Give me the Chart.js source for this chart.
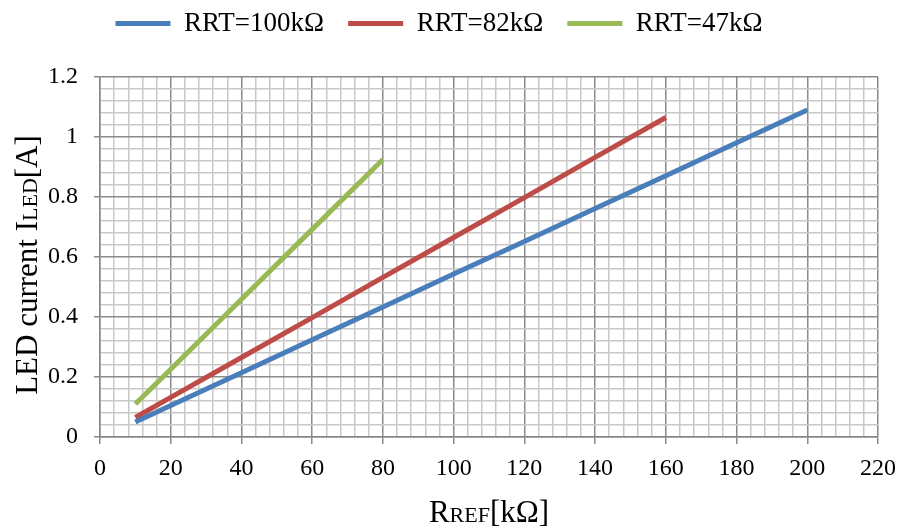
<!DOCTYPE html>
<html>
<head>
<meta charset="utf-8">
<script src="https://cdn.jsdelivr.net/npm/chart.js@4.4.1/dist/chart.umd.min.js"></script>
<style>
  html, body { margin: 0; padding: 0; background: #fff; }
  #wrap { width: 901px; height: 527px; }
</style>
</head>
<body>
<div id="wrap"><canvas id="ledChart"></canvas></div>
<script>
// values
const seriesNames = ['RRT=100k\u03A9', 'RRT=82k\u03A9', 'RRT=47k\u03A9'];
const seriesColors = ['#4a7ebb', '#be4b48', '#98b954'];

const rref100 = [10, 20, 40, 60, 80, 100, 120, 140, 160, 180, 200];
const iled100 = [0.05, 0.105, 0.214, 0.324, 0.433, 0.543, 0.652, 0.762, 0.871, 0.981, 1.09];

const rref82 = [10, 20, 40, 60, 80, 100, 120, 140, 160];
const iled82 = [0.065, 0.132, 0.265, 0.398, 0.532, 0.665, 0.798, 0.932, 1.065];

const rref47 = [10, 20, 40, 60, 80];
const iled47 = [0.11, 0.226, 0.459, 0.692, 0.925];

const xMax = 220;
const yMax = 1.2;

const serif = "'Liberation Serif', 'Times New Roman', serif";

function toPoints(xs, ys) {
    return xs.map((x, i) => ({ x: x, y: ys[i] }));
}

const isMajorX = v => Math.abs(v % 20) < 1e-6;
const isMajorY = v => Math.abs(v * 5 - Math.round(v * 5)) < 1e-6;

// keep a fixed gap between legend and plot
const legendHeight = {
    id: 'legendHeight',
    afterInit(chart) {
        const legend = chart.legend;
        if (!legend) return;
        const fit = legend.fit;
        legend.fit = function () {
            fit.call(this);
            this.height = 91;
        };
    }
};

// axis titles with small caps subscripts, drawn on the canvas
const axisTitles = {
    id: 'axisTitles',
    afterDraw(chart) {
        const ctx = chart.ctx;
        const area = chart.chartArea;
        const big = '31px ' + serif;
        const small = '22px ' + serif;

        function parts(list) {
            let w = 0;
            list.forEach(p => { ctx.font = p[1]; p.push(ctx.measureText(p[0]).width); w += p[2]; });
            return w;
        }
        function drawParts(list, x, y) {
            list.forEach(p => { ctx.font = p[1]; ctx.fillText(p[0], x, y); x += p[2]; });
        }

        ctx.save();
        ctx.fillStyle = '#000';
        ctx.textBaseline = 'alphabetic';
        ctx.textAlign = 'left';

        // x axis title
        const xt = [['R', big], ['REF', small], ['[k\u03A9]', big]];
        const xw = parts(xt);
        drawParts(xt, (area.left + area.right) / 2 - xw / 2, 522);

        // y axis title
        const yt = [['LED current I', big], ['LED', small], ['[A]', big]];
        const yw = parts(yt);
        ctx.translate(37, 265);
        ctx.rotate(-Math.PI / 2);
        drawParts(yt, -yw / 2, 0);
        ctx.restore();
    }
};

new Chart(document.getElementById('ledChart'), {
    type: 'line',
    data: {
        datasets: [
            { label: seriesNames[0], data: toPoints(rref100, iled100) },
            { label: seriesNames[1], data: toPoints(rref82, iled82) },
            { label: seriesNames[2], data: toPoints(rref47, iled47) }
        ].map((d, i) => Object.assign(d, {
            borderColor: seriesColors[i],
            backgroundColor: seriesColors[i],
            borderWidth: 5,
            pointRadius: 0,
            tension: 0,
            fill: false
        }))
    },
    options: {
        responsive: true,
        maintainAspectRatio: false,
        animation: false,
        layout: { padding: { top: -14, right: 23, left: 0, bottom: 0 } },
        plugins: {
            tooltip: { enabled: false },
            legend: {
                position: 'top',
                labels: {
                    boxWidth: 55,
                    boxHeight: 5,
                    padding: 24,
                    color: '#000',
                    font: { family: serif, size: 27 },
                    generateLabels(chart) {
                        const items = Chart.defaults.plugins.legend.labels.generateLabels(chart);
                        items.forEach(it => { it.lineWidth = 0; it.fillStyle = it.strokeStyle; });
                        return items;
                    }
                }
            }
        },
        scales: {
            x: {
                type: 'linear',
                min: 0,
                max: xMax,
                afterFit(scale) {
                    scale.height = 90;
                    scale.paddingLeft = 0;
                    scale.paddingRight = 0;
                },
                border: { color: '#868686', width: 1.5 },
                grid: {
                    color: c => isMajorX(c.tick.value) ? '#8a8a8a' : '#c8c8c8',
                    lineWidth: 1.5,
                    tickLength: 7,
                    tickColor: c => isMajorX(c.tick.value) ? '#8a8a8a' : 'rgba(0,0,0,0)'
                },
                ticks: {
                    stepSize: 4,
                    autoSkip: false,
                    maxRotation: 0,
                    padding: 10,
                    color: '#000',
                    font: { family: serif, size: 24 },
                    callback: v => isMajorX(v) ? String(v) : ''
                }
            },
            y: {
                min: 0,
                max: yMax,
                afterFit(scale) { scale.width = 100; },
                border: { color: '#868686', width: 1.5 },
                grid: {
                    color: c => isMajorY(c.tick.value) ? '#8a8a8a' : '#c8c8c8',
                    lineWidth: 1.5,
                    tickLength: 6,
                    tickColor: c => isMajorY(c.tick.value) ? '#8a8a8a' : 'rgba(0,0,0,0)'
                },
                ticks: {
                    stepSize: 0.04,
                    autoSkip: false,
                    padding: 16,
                    color: '#000',
                    font: { family: serif, size: 24 },
                    callback: v => isMajorY(v) ? String(Math.round(v * 10) / 10) : ''
                }
            }
        }
    },
    plugins: [legendHeight, axisTitles]
});
</script>
</body>
</html>
